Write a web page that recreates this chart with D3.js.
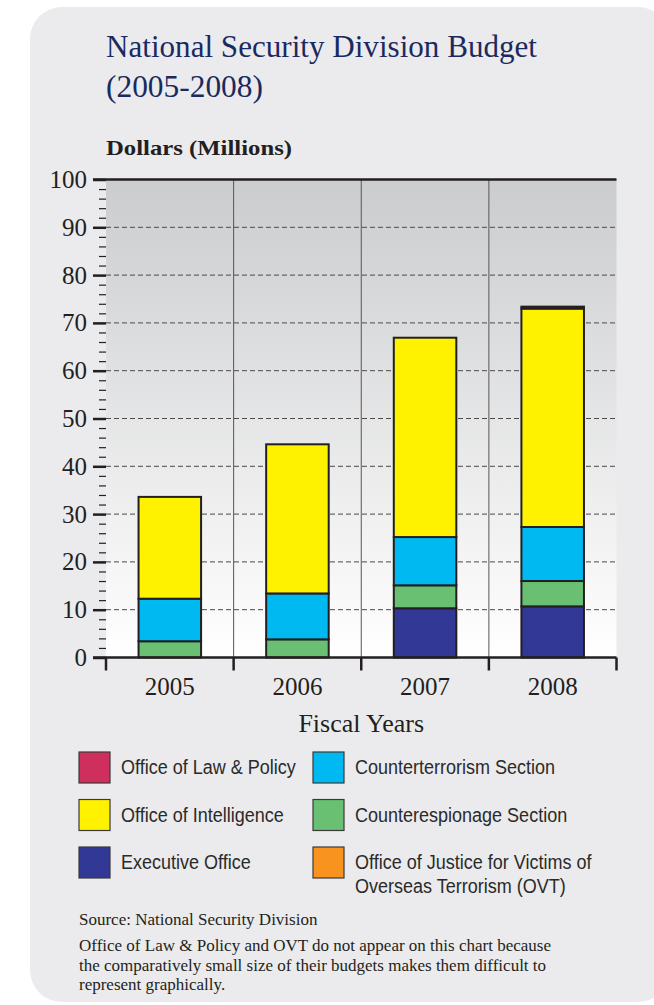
<!DOCTYPE html>
<html>
<head>
<meta charset="utf-8">
<script src="https://cdn.jsdelivr.net/npm/d3@7"></script>
<style>
  body { margin: 0; background: #fff; }
  svg { display: block; }
</style>
</head>
<body>
<div id="chart"></div>
<script>
// fiscal years on the x axis
const years = ["2005", "2006", "2007", "2008"];

// budget per component, millions of dollars
const executiveOffice = [0, 0, 10.3, 10.7];
const counterespionage = [3.4, 3.8, 4.8, 5.3];
const counterterrorism = [8.9, 9.6, 10.1, 11.3];
const intelligence = [21.3, 31.2, 41.7, 45.7];
const lawPolicy = [0, 0, 0, 0.4];

const yTicks = [0, 10, 20, 30, 40, 50, 60, 70, 80, 90, 100];

// legend entries, in the order they are laid out (column by column)
const legendLeft = ["Office of Law & Policy", "Office of Intelligence", "Executive Office"];
const legendRight = ["Counterterrorism Section", "Counterespionage Section", "Office of Justice for Victims of|Overseas Terrorism (OVT)"];

const colors = {
  "Office of Law & Policy": "#cf2f5c",
  "Office of Intelligence": "#fff200",
  "Executive Office": "#313896",
  "Counterterrorism Section": "#00b9f0",
  "Counterespionage Section": "#69c072",
  "Office of Justice for Victims of|Overseas Terrorism (OVT)": "#f7931e",
};

const width = 654;
const height = 1005;
const serif = "'Liberation Serif', 'DejaVu Serif', serif";
const narrow = "'Liberation Sans Narrow', 'Liberation Sans', Arial, sans-serif";

const svg = d3
  .select("#chart")
  .append("svg")
  .attr("width", width)
  .attr("height", height)
  .attr("viewBox", `0 0 ${width} ${height}`);

// grey rounded panel
svg.append("rect")
  .attr("x", 30)
  .attr("y", 7)
  .attr("width", 640)
  .attr("height", 995)
  .attr("rx", 32)
  .attr("fill", "#ebebed");

// title
const title = svg.append("g").attr("fill", "#1b2a5e").attr("font-family", serif).attr("font-size", 31);
title.append("text").attr("x", 106).attr("y", 57)
  .attr("textLength", 431).attr("lengthAdjust", "spacingAndGlyphs")
  .text("National Security Division Budget");
title.append("text").attr("x", 106).attr("y", 97)
  .attr("textLength", 157).attr("lengthAdjust", "spacingAndGlyphs")
  .text("(2005-2008)");

svg.append("text")
  .attr("x", 106).attr("y", 155)
  .attr("font-family", serif).attr("font-size", 21).attr("font-weight", "bold")
  .attr("fill", "#231f20")
  .attr("textLength", 186).attr("lengthAdjust", "spacingAndGlyphs")
  .text("Dollars (Millions)");

// plot area
const plot = { left: 106, right: 616.5, top: 179.5, bottom: 657.5 };

const x = d3.scaleBand().domain(years).range([plot.left, plot.right]).paddingInner(0).paddingOuter(0);
const y = d3.scaleLinear().domain([0, 100]).range([plot.bottom, plot.top]);

const defs = svg.append("defs");
const grad = defs.append("linearGradient")
  .attr("id", "bg").attr("x1", 0).attr("y1", 0).attr("x2", 0).attr("y2", 1);
grad.append("stop").attr("offset", "0%").attr("stop-color", "#cbccce");
grad.append("stop").attr("offset", "100%").attr("stop-color", "#ffffff");

svg.append("rect")
  .attr("x", plot.left).attr("y", plot.top)
  .attr("width", plot.right - plot.left).attr("height", plot.bottom - plot.top)
  .attr("fill", "url(#bg)");

// dashed gridlines
svg.append("g")
  .selectAll("line")
  .data(yTicks.filter((d) => d > 0 && d < 100))
  .join("line")
  .attr("x1", plot.left).attr("x2", plot.right)
  .attr("y1", (d) => y(d)).attr("y2", (d) => y(d))
  .attr("stroke", "#4a4a4a").attr("stroke-width", 1)
  .attr("stroke-dasharray", "5,3");

// vertical dividers between years
svg.append("g")
  .selectAll("line")
  .data(years.slice(1))
  .join("line")
  .attr("x1", (d) => x(d)).attr("x2", (d) => x(d))
  .attr("y1", plot.top).attr("y2", plot.bottom)
  .attr("stroke", "#555").attr("stroke-width", 1);

// stacked bars
const keys = ["exec", "ce", "ct", "intel", "law"];
const keyColors = {
  exec: colors["Executive Office"],
  ce: colors["Counterespionage Section"],
  ct: colors["Counterterrorism Section"],
  intel: colors["Office of Intelligence"],
  law: colors["Office of Law & Policy"],
};
const rows = years.map((yr, i) => ({
  year: yr,
  exec: executiveOffice[i],
  ce: counterespionage[i],
  ct: counterterrorism[i],
  intel: intelligence[i],
  law: lawPolicy[i],
}));
const stacked = d3.stack().keys(keys)(rows);

const barW = x.bandwidth() * 0.49;
svg.append("g")
  .selectAll("g")
  .data(stacked)
  .join("g")
  .attr("fill", (s) => keyColors[s.key])
  .selectAll("rect")
  .data((s) => s.filter((d) => d[1] - d[0] > 0))
  .join("rect")
  .attr("x", (d) => x(d.data.year) + (x.bandwidth() - barW) / 2)
  .attr("width", barW)
  .attr("y", (d) => y(d[1]))
  .attr("height", (d) => y(d[0]) - y(d[1]))
  .attr("stroke", "#231f20")
  .attr("stroke-width", 2);

// left axis: major and minor ticks
const minorAxis = d3.axisLeft(y).tickValues(d3.range(0, 101, 2)).tickSize(7).tickFormat("");
svg.append("g")
  .attr("transform", `translate(${plot.left},0)`)
  .call(minorAxis)
  .call((g) => g.select(".domain").remove())
  .call((g) => g.selectAll(".tick line").attr("stroke", "#231f20").attr("stroke-width", 1.2));

const majorAxis = d3.axisLeft(y).tickValues(yTicks).tickSize(13).tickPadding(6);
svg.append("g")
  .attr("transform", `translate(${plot.left},0)`)
  .call(majorAxis)
  .call((g) => g.select(".domain").remove())
  .call((g) => g.selectAll(".tick line").attr("stroke", "#231f20").attr("stroke-width", 2.5))
  .call((g) => g.selectAll(".tick text")
    .attr("font-family", serif).attr("font-size", 25).attr("fill", "#231f20"));

// top and bottom frame lines
[100, 0].forEach((v) => {
  svg.append("line")
    .attr("x1", plot.left - 13).attr("x2", plot.right)
    .attr("y1", y(v)).attr("y2", y(v))
    .attr("stroke", "#231f20").attr("stroke-width", 2.5);
});

// ticks at band edges on the bottom
svg.append("g")
  .selectAll("line")
  .data(years.map((d) => x(d)).concat([plot.right]))
  .join("line")
  .attr("x1", (d) => d).attr("x2", (d) => d)
  .attr("y1", plot.bottom).attr("y2", plot.bottom + 13)
  .attr("stroke", "#231f20").attr("stroke-width", 2.5);

// year labels
svg.append("g")
  .attr("transform", `translate(0,${plot.bottom})`)
  .call(d3.axisBottom(x).tickSize(0).tickPadding(20))
  .call((g) => g.select(".domain").remove())
  .call((g) => g.selectAll(".tick text")
    .attr("font-family", serif).attr("font-size", 25).attr("fill", "#231f20"));

svg.append("text")
  .attr("x", (plot.left + plot.right) / 2).attr("y", 732)
  .attr("text-anchor", "middle")
  .attr("font-family", serif).attr("font-size", 26).attr("fill", "#231f20")
  .text("Fiscal Years");

// legend
const legendCols = [
  { items: legendLeft, x: 79 },
  { items: legendRight, x: 313 },
];
legendCols.forEach((col) => {
  col.items.forEach((name, i) => {
    const top = 752 + i * 47.5;
    const g = svg.append("g").attr("transform", `translate(${col.x},${top})`);
    g.append("rect")
      .attr("width", 31).attr("height", 31)
      .attr("fill", colors[name])
      .attr("stroke", "#3a3a3a").attr("stroke-width", 1.2);
    name.split("|").forEach((line, j) => {
      const t = g.append("text")
        .attr("x", 42).attr("y", 22 + j * 24)
        .attr("font-family", narrow).attr("font-size", 20).attr("fill", "#2a2a2a")
        .text(line);
      // squeeze to look like the condensed face of the original
      const w = t.node().getComputedTextLength();
      t.attr("textLength", w * 0.9).attr("lengthAdjust", "spacingAndGlyphs");
    });
  });
});

// source and note
const foot = svg.append("g").attr("font-family", serif).attr("fill", "#231f20");
foot.append("text").attr("x", 79).attr("y", 925).attr("font-size", 17)
  .text("Source: National Security Division");
const note = [
  "Office of Law & Policy and OVT do not appear on this chart because",
  "the comparatively small size of their budgets makes them difficult to",
  "represent graphically.",
];
note.forEach((line, i) => {
  foot.append("text").attr("x", 79).attr("y", 951 + i * 19.5).attr("font-size", 17).text(line);
});
</script>
</body>
</html>
